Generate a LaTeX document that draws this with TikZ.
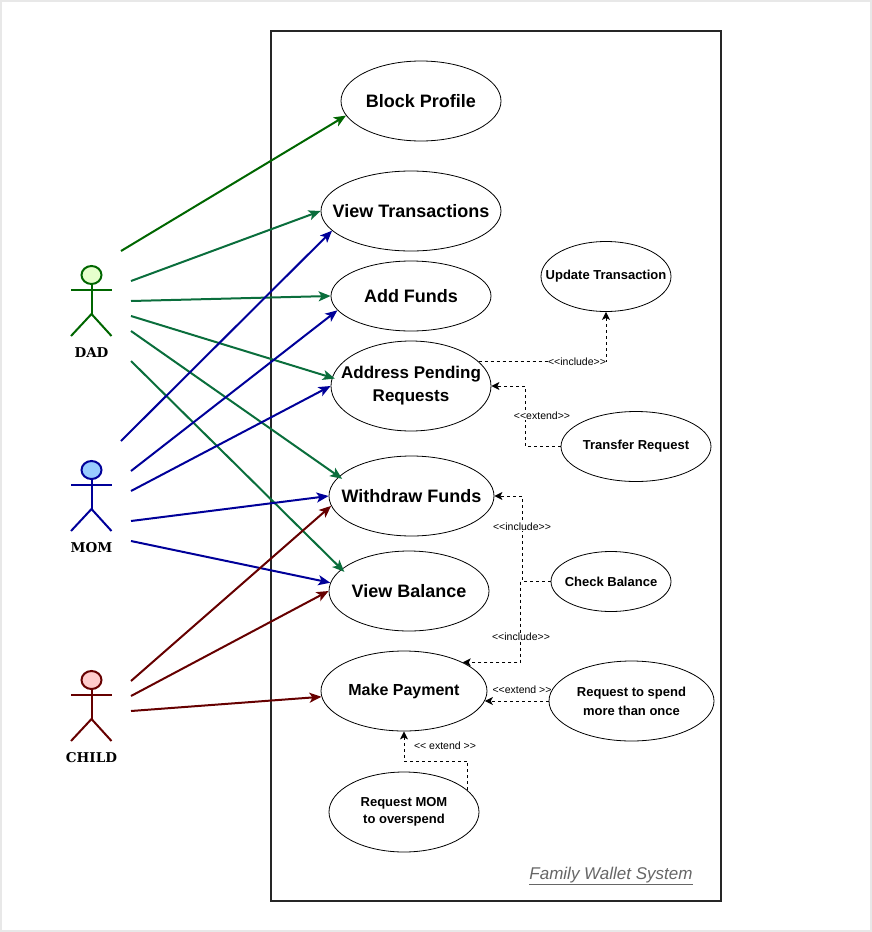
\documentclass[tikz,border=0pt]{standalone}
\usepackage{fontspec}
\setmainfont{Liberation Sans}
\newfontfamily\actorfont{DejaVu Serif}
\usetikzlibrary{arrows.meta,shapes.geometric}
\definecolor{DadGreen}{HTML}{006600}
\definecolor{DadTeal}{HTML}{0A6E3C}
\definecolor{MomBlue}{HTML}{000099}
\definecolor{ChildRed}{HTML}{660000}
\definecolor{TitleGray}{HTML}{666666}
\definecolor{PageEdge}{HTML}{E8E8E8}
\tikzset{
    usecase/.style={draw,ellipse,line width=0.8pt,inner xsep=-40pt,inner ysep=-15pt,align=center,fill=white},
    bigcase/.style={usecase,font=\fontsize{18}{23}\selectfont\bfseries},
    midcase/.style={usecase,font=\fontsize{16}{20}\selectfont\bfseries},
    smallcase/.style={usecase,font=\fontsize{13}{19}\selectfont\bfseries},
    tag/.style={fill=white,inner sep=0.5pt,font=\fontsize{10.5}{12}\selectfont},
    dep/.style={line width=1pt,dash pattern=on 3pt off 3pt,-{Stealth[length=8pt,width=8pt,inset=2pt]}},
    assoc/.style={line width=2pt,-{Stealth[length=12pt,width=10pt,inset=3pt]}}
}

\begin{document}
\begin{tikzpicture}[x=1pt,y=-1pt]
    \useasboundingbox (0,0) rectangle (872,932);
    \draw[line width=2pt,PageEdge] (1,1) rectangle (871,931);
    \draw[line width=2pt,black!85] (271.2,31.2) rectangle (721.2,901.2);
    \node[text=TitleGray,font=\fontsize{17}{20}\selectfont\itshape] (title) at (611,876) {\underline{Family Wallet System}};

%   use cases
    \node[bigcase,minimum width=160pt,minimum height=80pt] (block) at (421,101) {Block Profile};
    \node[bigcase,minimum width=180pt,minimum height=80pt] (trans) at (411,211) {View Transactions};
    \node[bigcase,minimum width=160pt,minimum height=70pt] (funds) at (411,296) {Add Funds};
    \node[bigcase,minimum width=160pt,minimum height=90pt,font=\fontsize{17}{23}\selectfont\bfseries] (pending) at (411,386) {Address Pending\\Requests};
    \node[bigcase,minimum width=165pt,minimum height=80pt] (withdraw) at (411.5,496) {Withdraw Funds};
    \node[bigcase,minimum width=160pt,minimum height=80pt] (balance) at (409,591) {View Balance};
    \node[midcase,minimum width=166pt,minimum height=80pt] (payment) at (404,691) {Make Payment};
    \node[smallcase,minimum width=150pt,minimum height=80pt,font=\fontsize{13}{17}\selectfont\bfseries] (askmom) at (404,812) {Request MOM\\to overspend};
    \node[smallcase,minimum width=130pt,minimum height=70pt] (update) at (606,276.5) {Update Transaction};
    \node[smallcase,minimum width=150pt,minimum height=70pt] (transfer) at (636,446.5) {Transfer Request};
    \node[smallcase,minimum width=120pt,minimum height=60pt] (check) at (611,581.5) {Check Balance};
    \node[smallcase,minimum width=165pt,minimum height=80pt] (spend) at (631.5,701) {Request to spend\\more than once};

%   actors
    \foreach \who/\txt/\top/\stk/\fil in {dad/DAD/266/DadGreen/E6FFCC,mom/MOM/461/MomBlue/99CCFF,child/CHILD/671/ChildRed/FFCCCC} {
        \definecolor{headfill}{HTML}{\fil}
        \node[draw=\stk,fill=headfill,line width=2pt,ellipse,minimum width=20pt,minimum height=18pt,inner sep=0pt] (\who head) at (91.5,\top+9) {};
        \draw[\stk,line width=2pt] (\who head.south) -- ++(0,29) coordinate (\who hip);
        \draw[\stk,line width=2pt] (71,\top+24) -- (111.5,\top+24);
        \draw[\stk,line width=2pt] (71,\top+70) -- (\who hip) -- (111.5,\top+70);
        \node[font=\actorfont\fontsize{13.5}{16}\selectfont\bfseries] (\who label) at (91.5,\top+87) {\txt};
    }

%   free ends
    \coordinate (d1) at (121,251);
    \coordinate (d2) at (131,281);
    \coordinate (d3) at (131,301);
    \coordinate (d4) at (131,316);
    \coordinate (d5) at (131,331);
    \coordinate (d6) at (131,361);
    \coordinate (m1) at (121,441);
    \coordinate (m2) at (131,471);
    \coordinate (m3) at (131,491);
    \coordinate (m4) at (131,521);
    \coordinate (m5) at (131,541);
    \coordinate (c1) at (131,681);
    \coordinate (c2) at (131,696);
    \coordinate (c3) at (131,711);

    \draw[assoc,DadGreen] (d1) -- (block.191);
    \foreach \a/\b/\s in {d2/trans.west/0,d3/funds.west/0,d4/pending.174/-3,d5/withdraw.165/-4,d6/balance.162/-4} {
        \draw[assoc,DadTeal,shorten >=\s pt] (\a) -- (\b);
    }
    \foreach \a/\b in {m1/trans.194,m2/funds.191,m3/pending.west,m4/withdraw.west,m5/balance.174} {
        \draw[assoc,MomBlue] (\a) -- (\b);
    }
    \foreach \a/\b in {c1/withdraw.187,c2/balance.west,c3/payment.184} {
        \draw[assoc,ChildRed] (\a) -- (\b);
    }

%   include and extend
    \draw[dep] (pending.20) -| (update.south);
    \node[tag] (tagA) at (577,362) {<{}<include>{}>};
    \draw[dep] (transfer.west) -- ++(-35,0) |- (pending.east);
    \node[tag] (tagB) at (542,416) {<{}<extend>{}>};
    \draw[dep] (check.west) -- ++(-28,0) |- (withdraw.east);
    \node[tag] (tagC) at (522,527) {<{}<include>{}>};
    \draw[dep] (check.west) -- ++(-30,0) |- (payment.26);
    \node[tag] (tagD) at (521,637) {<{}<include>{}>};
    \draw[dep] (spend.west) -- (payment.353 |- spend.west);
    \node[tag,fill=none] (tagE) at (522,690) {<{}<extend >{}>};
    \draw[dep] (askmom.19.5) |- (404,761) -- (payment.south);
    \node[tag] (tagF) at (445,746) {<{}< extend >{}>};
\end{tikzpicture}
\end{document}
